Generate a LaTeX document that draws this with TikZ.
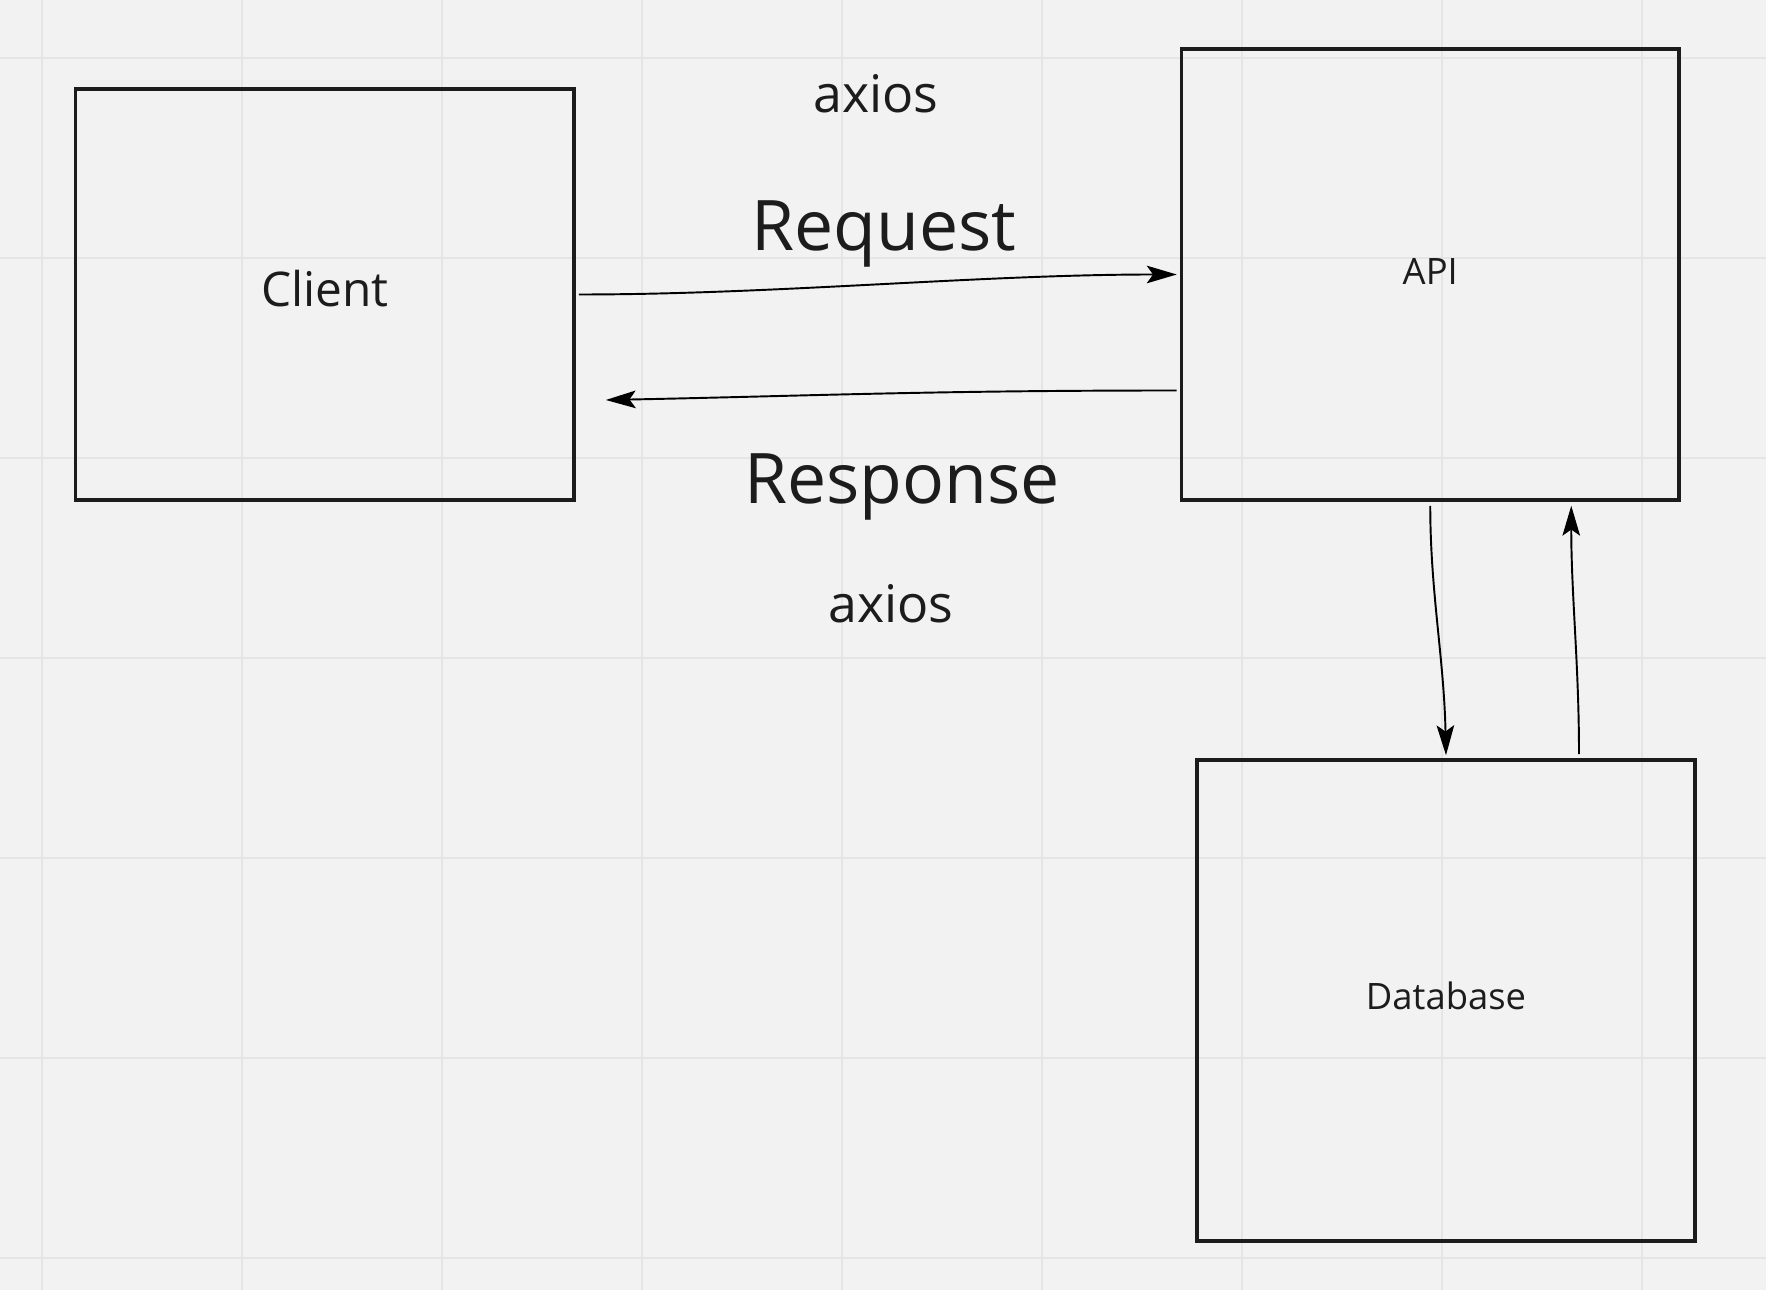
\documentclass[tikz,border=0pt]{standalone}
\usepackage{fontspec}
\setmainfont{Open Sans}
\usetikzlibrary{arrows.meta,calc}
\definecolor{bg}{HTML}{F2F2F2}
\definecolor{gridc}{HTML}{E5E5E5}
\definecolor{ink}{HTML}{1C1C1C}
\begin{document}
\begin{tikzpicture}[x=0.02cm,y=-0.02cm,
  box/.style={draw=ink,line width=2.1pt,rectangle,inner sep=0pt,text=ink,text depth=0pt},
  lbl/.style={anchor=base,inner sep=0pt,text=ink},
  conn/.style={draw=black,line width=1.1pt,-{Stealth[length=17pt,width=10pt,inset=3.5pt]}}]
\fill[bg] (0,0) rectangle (1766,1290);
\useasboundingbox (0,0) rectangle (1766,1290);
\foreach \x in {42,242,...,1642} \draw[gridc,line width=1.1pt] (\x,0) -- (\x,1290);
\foreach \y in {58,258,...,1258} \draw[gridc,line width=1.1pt] (0,\y) -- (1766,\y);

\node[box,minimum width=9.97cm,minimum height=8.22cm,text height=13.8pt,font=\fontsize{27.2}{32}\selectfont] (client) at (324.75,294.5) {Client};
\node[box,minimum width=9.95cm,minimum height=9.02cm,text height=11.9pt,font=\fontsize{20.7}{24}\selectfont] (api) at (1430.25,274.5) {API};
\node[box,minimum width=9.96cm,minimum height=9.62cm,text height=10.8pt,font=\fontsize{20.7}{24}\selectfont] (db) at (1446,1000.5) {Database};

\node[lbl,font=\fontsize{29.5}{34}\selectfont] (axiosA) at (876,113) {axios};
\node[lbl,font=\fontsize{39.7}{46}\selectfont] (request) at (884,251) {Request};
\node[lbl,font=\fontsize{39.7}{46}\selectfont] (response) at (902,504) {Response};
\node[lbl,font=\fontsize{29.5}{34}\selectfont] (axiosB) at (891,623) {axios};

\coordinate (respS) at ($(api.west)+(-3,116)$);
\coordinate (respE) at ($(client.east)+(30,105.5)$);
\coordinate (upS) at ($(db.north)+(133,-4)$);
\coordinate (upE) at ($(api.south)+(141,4)$);

\draw[conn] ($(client.east)+(3,0)$) .. controls ($(client.east)+(200,0)$) and ($(api.west)+(-200,0)$) .. ($(api.west)+(-3,0)$);
\draw[conn] (respS) .. controls ($(respS)+(-250,0)$) and ($(respE)+(200,-4)$) .. (respE);
\draw[conn] ($(api.south)+(0,4)$) .. controls ($(api.south)+(0,90)$) and ($(db.north)+(-2,-100)$) .. ($(db.north)+(0,-3)$);
\draw[conn] (upS) .. controls ($(upS)+(0,-90)$) and ($(upE)+(0,90)$) .. (upE);
\end{tikzpicture}
\end{document}
